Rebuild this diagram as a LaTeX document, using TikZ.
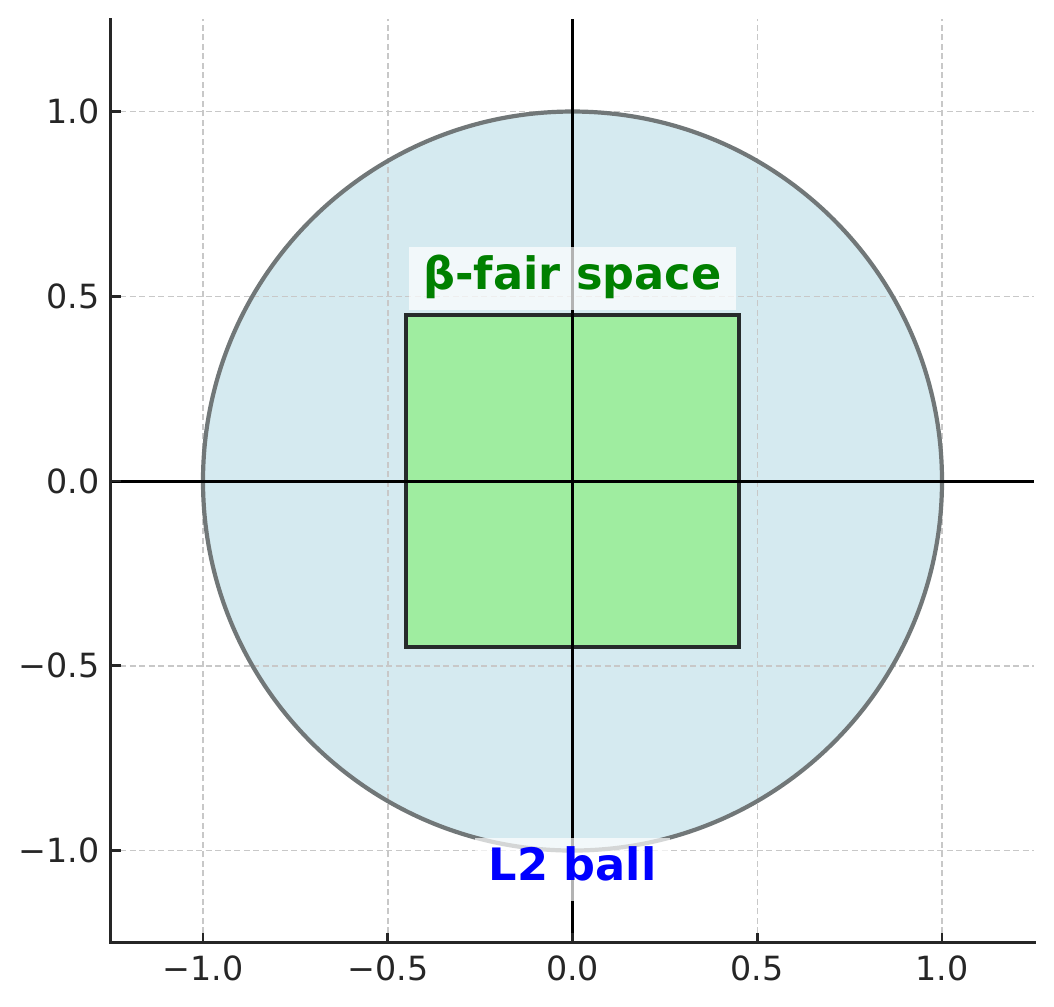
\documentclass[tikz,border=0pt]{standalone}
\usepackage{fontspec}
\setmainfont{DejaVu Sans}
\definecolor{circfill}{HTML}{D5EAF0}
\definecolor{circedge}{HTML}{717778}
\definecolor{sqfill}{HTML}{9FEDA0}
\definecolor{sqedge}{HTML}{262B2B}
\definecolor{gridcol}{HTML}{C8C8C8}
\definecolor{spinecol}{HTML}{262626}
\definecolor{fairgreen}{HTML}{008000}
\definecolor{ballblue}{HTML}{0000FF}
\tikzset{
  gridline/.style={gridcol, line width=0.015cm, dash pattern=on 0.06cm off 0.035cm},
  circline/.style={circedge, line width=0.042cm},
  sqbox/.style={fill=sqfill, draw=sqedge, line width=0.042cm},
  axisline/.style={black, line width=0.03cm},
  spineline/.style={spinecol, line width=0.03cm, line cap=rect},
  tickline/.style={spinecol, line width=0.028cm},
  ticklabel/.style={inner sep=0pt, text=spinecol, font=\fontsize{9.48}{11}\selectfont},
  labelbox/.style={fill=white, fill opacity=0.7, text opacity=1, inner xsep=0.14cm, inner ysep=0.14cm,
     text height=0.82em, text depth=0.18em, font=\fontsize{12.7}{15}\selectfont\bfseries}
}
\begin{document}
\begin{tikzpicture}[x=3.695cm,y=3.695cm]
\useasboundingbox (-1.5494,-1.4208) rectangle (1.3031,1.3018);
% ball fill
\fill[circfill] (0,0) circle (1);
% grid
\foreach \v in {-1,-0.5,0,0.5,1} {
  \draw[gridline] (\v,-1.25) -- (\v,1.25);
  \draw[gridline] (-1.25,\v) -- (1.25,\v);
}
% ball edge
\draw[circline] (0,0) circle (1);
% fair square
\filldraw[sqbox] (-0.45,-0.45) rectangle (0.45,0.45);
% axis lines
\draw[axisline] (0,-1.25) -- (0,1.25);
\draw[axisline] (-1.25,0) -- (1.25,0);
% labels
\node[labelbox, text=fairgreen] (fair) at (0,0.549) {β-fair space};
\node[labelbox, text=ballblue] (ball) at (0,-1.051) {L2 ball};
% spines
\draw[spineline] (-1.25,1.25) -- (-1.25,-1.25) -- (1.25,-1.25);
% ticks and tick labels
\foreach \v/\t in {-1/−1.0,-0.5/−0.5,0/0.0,0.5/0.5,1/1.0} {
  \draw[tickline] (\v,-1.25) -- (\v,-1.25+0.027);
  \draw[tickline] (-1.25,\v) -- (-1.25+0.027,\v);
  \node[ticklabel, anchor=north] (xl\v) at (\v,-1.25-0.033) {\t};
  \node[ticklabel, anchor=east] (yl\v) at (-1.25-0.028,\v) {\t};
}
\end{tikzpicture}
\end{document}
